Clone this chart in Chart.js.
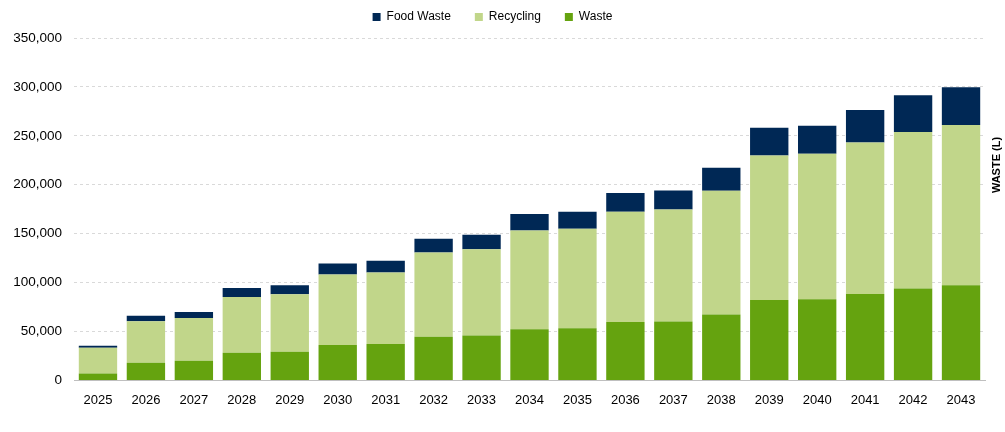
<!DOCTYPE html>
<html>
<head>
<meta charset="utf-8">
<script src="https://cdn.jsdelivr.net/npm/chart.js@4"></script>
<style>
  html, body { margin: 0; padding: 0; background: #fff; }
  #wrap { width: 1005px; height: 432px; position: relative; }
</style>
</head>
<body>
<div id="wrap"><canvas id="c"></canvas></div>
<script>
const categories = ['2025','2026','2027','2028','2029','2030','2031','2032','2033','2034','2035','2036','2037','2038','2039','2040','2041','2042','2043'];
const wasteValues = [7000, 18100, 20200, 28300, 29400, 36200, 37200, 44700, 45800, 52200, 53200, 59700, 60100, 67300, 82200, 82900, 88400, 93900, 97300];
const recyclingValues = [26500, 42300, 43600, 57000, 58600, 72000, 73000, 86000, 88300, 101100, 101700, 112600, 114700, 126500, 147800, 148800, 154900, 160000, 163800];
const foodWasteValues = [2000, 5800, 6200, 9200, 9300, 11300, 12000, 14000, 14700, 16700, 17400, 19200, 19400, 23600, 28300, 28700, 33100, 37600, 38600];
const axisTitle = 'WASTE (L)';

const FONT = "'Liberation Sans', Arial, sans-serif";

const rightTitle = {
  id: 'rightTitle',
  afterInit(chart) {
    const lg = chart.legend;
    if (lg && !lg._patched) {
      const orig = lg.fit;
      lg.fit = function () { orig.call(this); this.height = 51; };
      lg._patched = true;
    }
  },
  afterDraw(chart) {
    const ctx = chart.ctx;
    ctx.save();
    ctx.translate(997, 165);
    ctx.rotate(-Math.PI / 2);
    ctx.font = "bold 11px " + FONT;
    ctx.fillStyle = '#000';
    ctx.textAlign = 'center';
    ctx.textBaseline = 'middle';
    ctx.fillText(axisTitle, 0, 0);
    ctx.restore();
  }
};

new Chart(document.getElementById('c'), {
  type: 'bar',
  data: {
    labels: categories,
    datasets: [
      { label: 'Waste', data: wasteValues, backgroundColor: '#65a30f' },
      { label: 'Recycling', data: recyclingValues, backgroundColor: '#c1d68a' },
      { label: 'Food Waste', data: foodWasteValues, backgroundColor: '#002855' }
    ]
  },
  options: {
    responsive: true,
    maintainAspectRatio: false,
    animation: false,
    datasets: { bar: { categoryPercentage: 0.8, barPercentage: 1.0 } },
    layout: { padding: { top: -13, right: 20, bottom: 20, left: 0 } },
    plugins: {
      legend: {
        position: 'top',
        reverse: true,
        labels: {
          boxWidth: 8, boxHeight: 8, padding: 24,
          color: '#000',
          font: { family: FONT, size: 12 }
        }
      },
      tooltip: { enabled: false }
    },
    scales: {
      x: {
        stacked: true,
        grid: { display: false },
        border: { display: true, color: '#bfbfbf' },
        ticks: { color: '#000', font: { family: FONT, size: 13 }, padding: 4, maxRotation: 0 }
      },
      y: {
        stacked: true,
        min: 0, max: 350000,
        afterFit(scale) { scale.width = 74; },
        grid: { color: '#d9d9d9', drawTicks: false, lineWidth: 1 },
        border: { display: false, dash: [3, 3] },
        ticks: {
          stepSize: 50000, padding: 12, color: '#000',
          font: { family: FONT, size: 13.5 },
          callback: v => v.toLocaleString('en-US')
        }
      }
    }
  },
  plugins: [rightTitle]
});
</script>
</body>
</html>
